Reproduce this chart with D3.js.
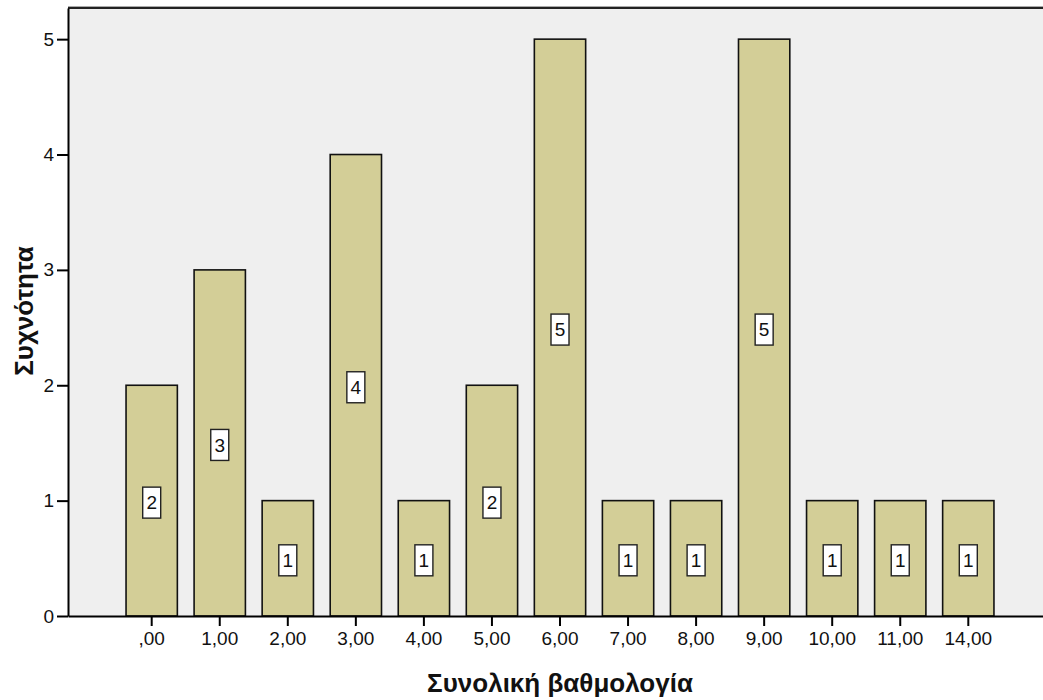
<!DOCTYPE html>
<html>
<head>
<meta charset="utf-8">
<script src="https://cdn.jsdelivr.net/npm/d3@7"></script>
<style>
  body { margin: 0; background: #fff; }
  svg { display: block; font-family: "Liberation Sans", Arial, sans-serif; }
</style>
</head>
<body>
<div class="container"></div>
<script>
// frequency table
var categories = [",00", "1,00", "2,00", "3,00", "4,00", "5,00", "6,00", "7,00", "8,00", "9,00", "10,00", "11,00", "14,00"];
var counts = [2, 3, 1, 4, 1, 2, 5, 1, 1, 5, 1, 1, 1];
var yTicks = [0, 1, 2, 3, 4, 5];
var xTitle = "Συνολική βαθμολογία";
var yTitle = "Συχνότητα";

var W = 1043, H = 700;
var plotL = 68, plotR = 1052, plotT = 8, plotB = 616;

var svg = d3.select(".container").append("svg")
  .attr("width", W)
  .attr("height", H);

var x = d3.scaleBand()
  .domain(categories)
  .range([plotL, plotR])
  .paddingInner(0.246)
  .paddingOuter(0.853);

var y = d3.scaleLinear()
  .domain([0, 5.27])
  .range([plotB, plotT]);

// plot background
svg.append("rect")
  .attr("x", plotL).attr("y", plotT)
  .attr("width", plotR - plotL).attr("height", plotB - plotT)
  .style("fill", "#efefef");

svg.append("line")
  .attr("x1", plotL).attr("x2", plotR)
  .attr("y1", plotT - 1.5).attr("y2", plotT - 1.5)
  .style("stroke", "#aaa").style("stroke-width", 1);
svg.append("line")
  .attr("x1", plotL).attr("x2", plotR)
  .attr("y1", plotT).attr("y2", plotT)
  .style("stroke", "#222").style("stroke-width", 2);

var rows = categories.map(function(c, i) { return {cat: c, n: counts[i]}; });

svg.selectAll("rect.bar")
  .data(rows)
  .enter()
  .append("rect")
  .attr("class", "bar")
  .attr("x", function(d) { return x(d.cat); })
  .attr("y", function(d) { return y(d.n); })
  .attr("width", x.bandwidth())
  .attr("height", function(d) { return plotB - y(d.n); })
  .style("fill", "#d3ce97")
  .style("stroke", "#111")
  .style("stroke-width", 1.6);

// value labels in white boxes
var lab = svg.selectAll("g.lab")
  .data(rows)
  .enter()
  .append("g")
  .attr("class", "lab")
  .attr("transform", function(d) {
    return "translate(" + (x(d.cat) + x.bandwidth() / 2) + "," + (y(d.n / 2) + 2) + ")";
  });

lab.append("rect")
  .attr("x", -9).attr("y", -15.5)
  .attr("width", 18).attr("height", 31)
  .style("fill", "#fff")
  .style("stroke", "#222")
  .style("stroke-width", 1.4);

lab.append("text")
  .attr("text-anchor", "middle")
  .attr("dy", "0.36em")
  .style("font-size", "19px")
  .style("fill", "#111")
  .text(function(d) { return d.n; });

// axes
var xAxis = d3.axisBottom(x).tickSize(10).tickSizeOuter(0).tickPadding(6);
var gx = svg.append("g")
  .attr("transform", "translate(0," + plotB + ")")
  .call(xAxis);
gx.select(".domain").style("stroke", "#000").style("stroke-width", 2);
gx.selectAll(".tick line").style("stroke", "#000").style("stroke-width", 2);
gx.selectAll(".tick text").style("font-size", "19px").style("fill", "#111").style("font-family", "Liberation Sans, Arial, sans-serif");

var yAxis = d3.axisLeft(y).tickValues(yTicks).tickSize(11).tickSizeOuter(0).tickPadding(3)
  .tickFormat(d3.format("d"));
var gy = svg.append("g")
  .attr("transform", "translate(" + plotL + ",0)")
  .call(yAxis);
gy.select(".domain").style("stroke", "#000").style("stroke-width", 2);
gy.selectAll(".tick line").style("stroke", "#000").style("stroke-width", 2);
gy.selectAll(".tick text").style("font-size", "19px").style("fill", "#111").style("font-family", "Liberation Sans, Arial, sans-serif");

// titles
svg.append("text")
  .attr("x", 560).attr("y", 692)
  .attr("text-anchor", "middle")
  .style("font-size", "26px")
  .style("font-weight", "bold")
  .style("fill", "#111")
  .text(xTitle);

svg.append("text")
  .attr("transform", "translate(33,311) rotate(-90)")
  .attr("text-anchor", "middle")
  .style("font-size", "26px")
  .style("font-weight", "bold")
  .style("fill", "#111")
  .text(yTitle);
</script>
</body>
</html>
